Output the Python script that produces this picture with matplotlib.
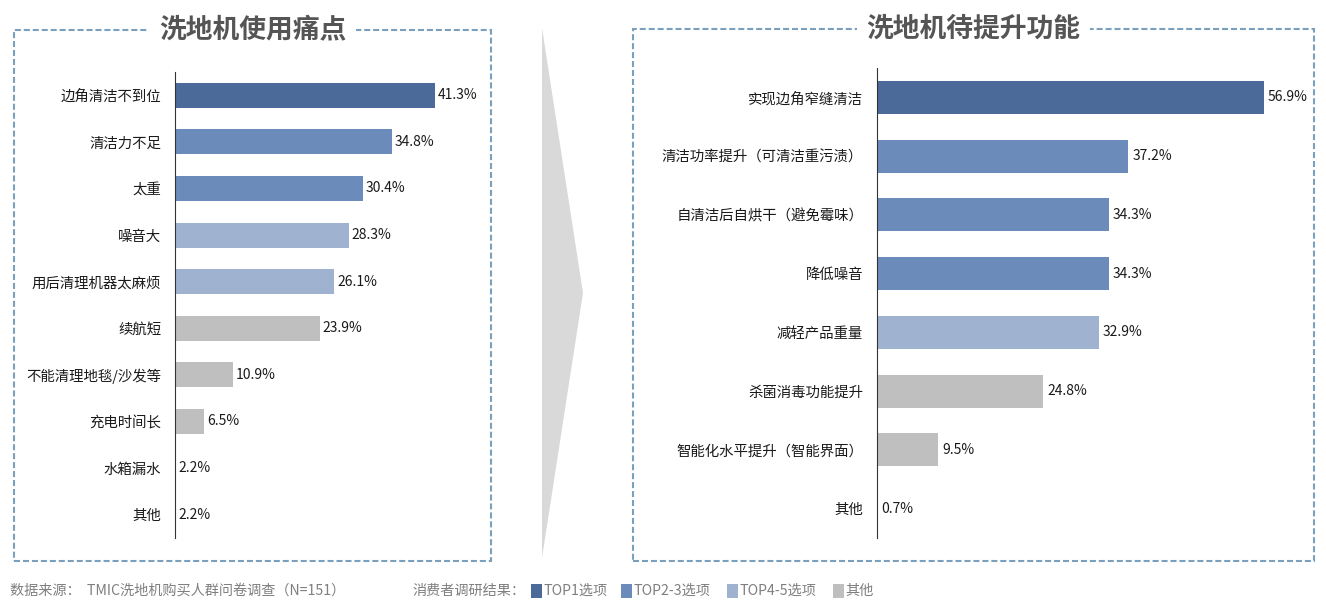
import matplotlib.pyplot as plt
from matplotlib.patches import Rectangle, Polygon

plt.rcParams['font.family'] = ['Noto Sans CJK SC', 'DejaVu Sans']

# data
left_title = '洗地机使用痛点'
left_cats = ['边角清洁不到位', '清洁力不足', '太重', '噪音大', '用后清理机器太麻烦',
             '续航短', '不能清理地毯/沙发等', '充电时间长', '水箱漏水', '其他']
left_vals = [41.3, 34.8, 30.4, 28.3, 26.1, 23.9, 10.9, 6.5, 2.2, 2.2]
left_groups = [0, 1, 1, 2, 2, 3, 3, 3, 3, 3]

right_title = '洗地机待提升功能'
right_cats = ['实现边角窄缝清洁', '清洁功率提升（可清洁重污渍）', '自清洁后自烘干（避免霉味）',
              '降低噪音', '减轻产品重量', '杀菌消毒功能提升', '智能化水平提升（智能界面）', '其他']
right_vals = [56.9, 37.2, 34.3, 34.3, 32.9, 24.8, 9.5, 0.7]
right_groups = [0, 1, 1, 1, 2, 3, 3, 3]

group_names = ['TOP1选项', 'TOP2-3选项', 'TOP4-5选项', '其他']
group_colors = ['#4b6a9a', '#6b8cba', '#9fb3d1', '#bfbfbf']

W, H = 1326, 610
fig = plt.figure(figsize=(W / 100, H / 100), dpi=100)


def fx(px):
    return px / W


def fy(py):
    return 1 - py / H


def panel(box, ax_rect, xlim, cats, vals, groups, title, bar_h):
    # dashed frame with the title sitting on its top edge
    x0, y0, x1, y1 = box
    fig.patches.append(Rectangle((fx(x0), fy(y1)), fx(x1 - x0), (y1 - y0) / H,
                                 transform=fig.transFigure, fill=False,
                                 edgecolor='#7ba0be', linestyle=(0, (2.9, 1.4)), linewidth=1.5))
    fig.text(fx((x0 + x1) / 2), fy(y0), title, ha='center', va='center',
             fontsize=19.3, fontweight='bold', color='#555555',
             bbox=dict(facecolor='white', edgecolor='none', pad=7))
    ax = fig.add_axes(ax_rect)
    y = range(len(cats))
    colors = [group_colors[g] for g in groups]
    ax.barh(y, vals, height=bar_h, color=colors)
    span = xlim[1] - xlim[0]
    for i, v in enumerate(vals):
        ax.text(max(v, xlim[0]) + span * 0.01, i, f'{v}%', va='center', ha='left',
                fontsize=10, color='#1a1a1a')
    ax.set_yticks(list(y))
    ax.set_yticklabels(cats, fontsize=10.4, color='#1a1a1a')
    ax.set_ylim(len(cats) - 0.5, -0.5)
    ax.set_xlim(*xlim)
    ax.set_xticks([])
    for s in ['top', 'right', 'bottom']:
        ax.spines[s].set_visible(False)
    ax.spines['left'].set_color('#333333')
    ax.tick_params(axis='y', length=0, pad=10)
    return ax


panel((14, 30, 491, 561), [fx(175), fy(538), fx(300), 466 / H], (2.14, 47.3),
      left_cats, left_vals, left_groups, left_title, 0.54)
panel((633, 29, 1314, 561), [fx(877), fy(538), fx(400), 470 / H], (0.63, 58.8),
      right_cats, right_vals, right_groups, right_title, 0.56)

# grey arrow between the panels
fig.patches.append(Polygon([(fx(542), fy(28)), (fx(583), fy(293)), (fx(542), fy(558))],
                           closed=True, transform=fig.transFigure,
                           facecolor='#d9d9d9', edgecolor='none'))

# footer
fig.text(fx(10), fy(591), '数据来源：  TMIC洗地机购买人群问卷调查（N=151）', ha='left', va='center',
         fontsize=10.2, color='#7f7f7f')
fig.text(fx(412), fy(591), '消费者调研结果：', ha='left', va='center', fontsize=10.2, color='#7f7f7f')
lx = [531, 621, 727, 833]
for x, name, c in zip(lx, group_names, group_colors):
    fig.patches.append(Rectangle((fx(x), fy(598)), fx(11), 14 / H,
                                 transform=fig.transFigure, facecolor=c, edgecolor='none'))
    fig.text(fx(x + 12), fy(591), name, ha='left', va='center', fontsize=10.2, color='#7f7f7f')

fig.savefig('out.png', dpi=100)
